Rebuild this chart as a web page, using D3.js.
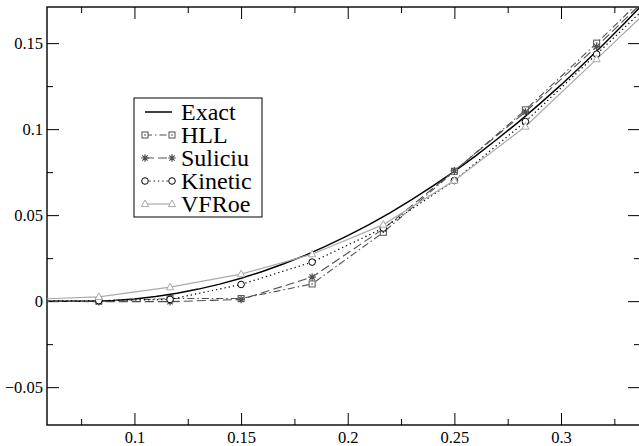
<!DOCTYPE html>
<html>
<head>
<meta charset="utf-8">
<script src="https://cdn.jsdelivr.net/npm/d3@7"></script>
<style>
body { margin: 0; background: #fff; }
text { font-family: "Liberation Serif", "DejaVu Serif", serif; fill: #000; }
</style>
</head>
<body>
<div id="chart"></div>
<script>
// sample points of the schemes (cell centres, x = (k+0.5)/30)
var xs      = [0.05, 0.0833, 0.1167, 0.15, 0.1833, 0.2167, 0.25, 0.2833, 0.3167, 0.35];
var hll     = [0, 0, 0.0015, 0.0015, 0.010, 0.040, 0.0755, 0.1112, 0.150, 0.190];
var suliciu = [0, -0.0003, -0.0003, 0.001, 0.014, 0.042, 0.0758, 0.110, 0.148, 0.188];
var kinetic = [0, 0.0003, 0.001, 0.0097, 0.0227, 0.0425, 0.0701, 0.1044, 0.1436, 0.183];
var vfroe   = [0.001, 0.0025, 0.0081, 0.0157, 0.0273, 0.0445, 0.0701, 0.1015, 0.1407, 0.180];

// exact solution
var exactX = [0.05, 0.06, 0.07, 0.08, 0.09, 0.10, 0.11, 0.12, 0.13, 0.14, 0.15, 0.16, 0.17, 0.18,
              0.19, 0.20, 0.21, 0.22, 0.23, 0.24, 0.25, 0.26, 0.27, 0.28, 0.29, 0.30, 0.31,
              0.32, 0.33, 0.34];
var exactY = [0, 0, 0, 0, 0.0004, 0.0013, 0.0027, 0.0046, 0.0070, 0.0099, 0.0133, 0.0172, 0.0217,
              0.0266, 0.0321, 0.0381, 0.0445, 0.0515, 0.0590, 0.0670, 0.0755, 0.0845, 0.0941,
              0.1041, 0.1147, 0.1257, 0.1373, 0.1493, 0.1618, 0.1749];

var names = ["Exact", "HLL", "Suliciu", "Kinetic", "VFRoe"];
var xTicks = [0.1, 0.15, 0.2, 0.25, 0.3];
var yTicks = [-0.05, 0, 0.05, 0.1, 0.15];
var xMinor = [0.075, 0.125, 0.175, 0.225, 0.275, 0.325];
var yMinor = [-0.025, 0.025, 0.075, 0.125];

var width = 639, height = 446;
var pL = 47, pT = 7, pR = 641, pB = 425;

var svg = d3.select("#chart").append("svg")
    .attr("width", width)
    .attr("height", height);

var x = d3.scaleLinear().domain([0.059, 0.3375]).range([pL, pR]);
var y = d3.scaleLinear().domain([-0.072, 0.171]).range([pB, pT]);

svg.append("clipPath").attr("id", "clip")
  .append("rect")
    .attr("x", pL).attr("y", pT)
    .attr("width", pR - pL).attr("height", pB - pT);

// ticks on all four sides, pointing inward
function addAxis(axis, tr, minorVals, major) {
  var g = svg.append("g").attr("transform", tr)
    .call(axis.tickValues(minorVals).tickSize(-6).tickFormat(""));
  g.select(".domain").remove();
  var g2 = svg.append("g").attr("transform", tr)
    .call(major);
  g2.select(".domain").remove();
  g.selectAll("line").attr("stroke", "#000").attr("stroke-width", 1);
  g2.selectAll("line").attr("stroke", "#000").attr("stroke-width", 1);
  return g2;
}

var bx = addAxis(d3.axisBottom(x), "translate(0," + pB + ")", xMinor,
  d3.axisBottom(x).tickValues(xTicks).tickSize(-12).tickPadding(6).tickFormat(d3.format("")));
bx.attr("font-size", 16.5).attr("font-family", "Liberation Serif");

addAxis(d3.axisTop(x), "translate(0," + pT + ")", xMinor,
  d3.axisTop(x).tickValues(xTicks).tickSize(-12).tickFormat(""));

var ly = addAxis(d3.axisLeft(y), "translate(" + pL + ",0)", yMinor,
  d3.axisLeft(y).tickValues(yTicks).tickSize(-12).tickPadding(4).tickFormat(d3.format("")));
ly.attr("font-size", 16.5).attr("font-family", "Liberation Serif");

addAxis(d3.axisRight(y), "translate(" + (pR - 1) + ",0)", yMinor,
  d3.axisRight(y).tickValues(yTicks).tickSize(-12).tickFormat(""));

// frame
svg.append("rect")
  .attr("x", pL).attr("y", pT)
  .attr("width", pR - pL).attr("height", pB - pT)
  .attr("fill", "none").attr("stroke", "#000").attr("stroke-width", 1.4);

// series styles
var series = [
  { name: "HLL",     vals: hll,     color: "#505050", dash: "7,3,1.5,3", width: 1.1, mark: "square" },
  { name: "Suliciu", vals: suliciu, color: "#505050", dash: "9,4",       width: 1.1, mark: "star" },
  { name: "Kinetic", vals: kinetic, color: "#000",    dash: "1.3,3",     width: 1.2, mark: "circle" },
  { name: "VFRoe",   vals: vfroe,   color: "#aaaaaa", dash: null,        width: 1.2, mark: "triangle" }
];

var plot = svg.append("g").attr("clip-path", "url(#clip)");
var line = d3.line().x(function(d) { return x(d[0]); }).y(function(d) { return y(d[1]); });

plot.append("path")
  .datum(d3.zip(exactX, exactY))
  .attr("d", line)
  .attr("fill", "none").attr("stroke", "#000").attr("stroke-width", 1.5);

function drawMarker(g, type, cx, cy, color) {
  if (type === "square") {
    g.append("rect").attr("x", cx - 3).attr("y", cy - 3).attr("width", 6).attr("height", 6)
      .attr("fill", "#fff").attr("stroke", color).attr("stroke-width", 1);
    g.append("rect").attr("x", cx - 0.7).attr("y", cy - 0.7).attr("width", 1.4).attr("height", 1.4)
      .attr("fill", color);
  } else if (type === "star") {
    var r = 3.8, p = "";
    [0, 45, 90, 135].forEach(function(a) {
      var t = a * Math.PI / 180;
      p += "M" + (cx - r * Math.cos(t)) + "," + (cy - r * Math.sin(t)) +
           "L" + (cx + r * Math.cos(t)) + "," + (cy + r * Math.sin(t));
    });
    g.append("path").attr("d", p).attr("stroke", color).attr("stroke-width", 1.2);
  } else if (type === "circle") {
    g.append("circle").attr("cx", cx).attr("cy", cy).attr("r", 3.3)
      .attr("fill", "#fff").attr("stroke", color).attr("stroke-width", 1);
  } else if (type === "triangle") {
    g.append("path")
      .attr("d", "M" + cx + "," + (cy - 4) + "L" + (cx + 3.6) + "," + (cy + 2.6) + "L" + (cx - 3.6) + "," + (cy + 2.6) + "Z")
      .attr("fill", "#fff").attr("stroke", color).attr("stroke-width", 1);
  }
}

series.forEach(function(s) {
  plot.append("path")
    .datum(d3.zip(xs, s.vals))
    .attr("d", line)
    .attr("fill", "none")
    .attr("stroke", s.color)
    .attr("stroke-width", s.width)
    .attr("stroke-dasharray", s.dash);
});
series.forEach(function(s) {
  var g = plot.append("g");
  xs.forEach(function(v, i) { drawMarker(g, s.mark, x(v), y(s.vals[i]), s.color); });
});

// legend
var lg = svg.append("g");
lg.append("rect")
  .attr("x", 134).attr("y", 98).attr("width", 128).attr("height", 119)
  .attr("fill", "#fff").attr("stroke", "#000").attr("stroke-width", 1);

var styles = [{ color: "#000", dash: null, width: 1.5, mark: null }].concat(series);
names.forEach(function(n, i) {
  var yy = 112 + i * 23;
  var st = styles[i];
  lg.append("line")
    .attr("x1", 145).attr("x2", 172).attr("y1", yy).attr("y2", yy)
    .attr("stroke", st.color).attr("stroke-width", st.width)
    .attr("stroke-dasharray", st.dash);
  if (st.mark) {
    drawMarker(lg, st.mark, 145, yy, st.color);
    drawMarker(lg, st.mark, 172, yy, st.color);
  }
  lg.append("text")
    .attr("x", 181).attr("y", yy + 8)
    .attr("font-size", 24)
    .attr("font-family", "Liberation Serif")
    .text(n);
});
</script>
</body>
</html>
